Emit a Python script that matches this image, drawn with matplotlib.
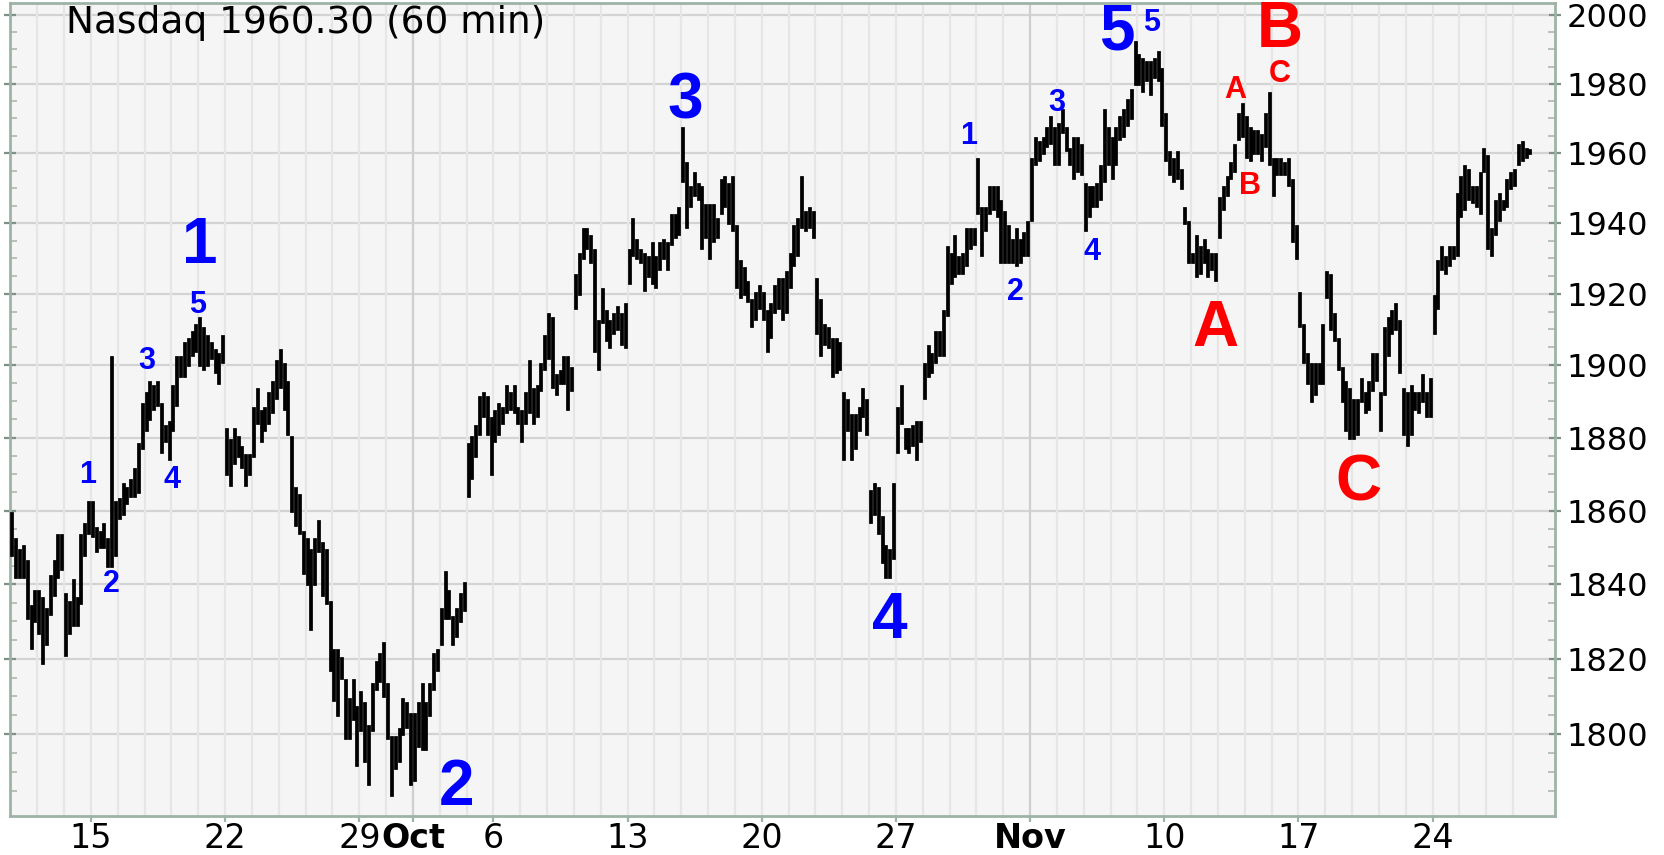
import matplotlib
matplotlib.use('Agg')
import matplotlib.pyplot as plt
from matplotlib.ticker import FixedLocator, FixedFormatter, NullFormatter
import numpy as np
import pandas as pd

# Trading days shown on the chart (Thanksgiving closed)
days = [d for d in pd.bdate_range('2003-09-10', '2003-11-28')
        if d != pd.Timestamp('2003-11-27')]

# 60-minute bars, 7 per day: highs and lows
highs = [
    [1859, 1852, 1849, 1850, 1846, 1834, 1838],
    [1838, 1836, 1833, 1842, 1846, 1853, 1853],
    [1837, 1835, 1841, 1836, 1853, 1856, 1862],
    [1862, 1855, 1854, 1856, 1852, 1902, 1862],
    [1863, 1867, 1866, 1868, 1871, 1878, 1889],
    [1892, 1895, 1894, 1895, 1889, 1883, 1884],
    [1894, 1902, 1902, 1906, 1907, 1909, 1911],
    [1913, 1910, 1908, 1906, 1904, 1903, 1908],
    [1882, 1879, 1882, 1880, 1877, 1875, 1875],
    [1888, 1893, 1887, 1888, 1892, 1895, 1901],
    [1904, 1900, 1895, 1880, 1866, 1864, 1854],
    [1852, 1849, 1852, 1857, 1851, 1849, 1835],
    [1822, 1822, 1820, 1814, 1809, 1814, 1807],
    [1811, 1808, 1802, 1813, 1819, 1821, 1824],
    [1813, 1799, 1799, 1801, 1809, 1808, 1805],
    [1805, 1808, 1813, 1808, 1813, 1821, 1822],
    [1833, 1843, 1838, 1831, 1833, 1837, 1840],
    [1878, 1880, 1883, 1891, 1892, 1891, 1885],
    [1887, 1889, 1888, 1894, 1892, 1894, 1888],
    [1887, 1892, 1901, 1893, 1894, 1900, 1908],
    [1914, 1913, 1897, 1898, 1902, 1902, 1899],
    [1925, 1931, 1938, 1938, 1936, 1932, 1912],
    [1921, 1915, 1912, 1914, 1916, 1914, 1917],
    [1932, 1941, 1935, 1932, 1931, 1930, 1934],
    [1930, 1934, 1935, 1934, 1942, 1942, 1944],
    [1967, 1957, 1950, 1954, 1951, 1950, 1945],
    [1945, 1945, 1941, 1952, 1953, 1951, 1953],
    [1939, 1929, 1927, 1923, 1918, 1920, 1922],
    [1920, 1915, 1917, 1922, 1924, 1924, 1926],
    [1931, 1939, 1941, 1953, 1943, 1944, 1943],
    [1924, 1918, 1911, 1910, 1907, 1907, 1906],
    [1892, 1890, 1886, 1886, 1888, 1893, 1890],
    [1865, 1867, 1866, 1858, 1850, 1849, 1867],
    [1888, 1894, 1882, 1882, 1883, 1884, 1884],
    [1900, 1905, 1903, 1909, 1909, 1915, 1933],
    [1931, 1936, 1930, 1931, 1938, 1938, 1938],
    [1958, 1944, 1944, 1950, 1950, 1950, 1946],
    [1943, 1939, 1935, 1938, 1935, 1937, 1940],
    [1958, 1964, 1963, 1964, 1967, 1970, 1967],
    [1968, 1972, 1967, 1961, 1964, 1964, 1962],
    [1951, 1950, 1950, 1951, 1956, 1972, 1967],
    [1964, 1967, 1970, 1972, 1975, 1978, 1992],
    [1988, 1987, 1986, 1986, 1987, 1989, 1984],
    [1971, 1960, 1958, 1960, 1955, 1944, 1940],
    [1931, 1936, 1933, 1935, 1932, 1931, 1931],
    [1947, 1950, 1953, 1957, 1962, 1971, 1974],
    [1970, 1967, 1966, 1966, 1965, 1971, 1977],
    [1958, 1958, 1958, 1957, 1958, 1952, 1939],
    [1920, 1911, 1903, 1900, 1900, 1900, 1911],
    [1926, 1925, 1914, 1907, 1899, 1895, 1893],
    [1890, 1890, 1896, 1892, 1895, 1903, 1903],
    [1892, 1910, 1913, 1915, 1917, 1912, 1893],
    [1892, 1894, 1892, 1892, 1897, 1892, 1896],
    [1919, 1929, 1933, 1930, 1933, 1933, 1948],
    [1953, 1956, 1955, 1950, 1950, 1954, 1961],
    [1959, 1938, 1946, 1948, 1946, 1952, 1954],
    [1955, 1962, 1963, 1961, 1960.5, 1960.3, 1960.3],
]
lows = [
    [1848, 1842, 1842, 1842, 1831, 1823, 1830],
    [1827, 1819, 1824, 1832, 1837, 1842, 1844],
    [1821, 1827, 1829, 1829, 1835, 1848, 1854],
    [1853, 1849, 1850, 1850, 1845, 1845, 1848],
    [1858, 1859, 1862, 1864, 1864, 1865, 1877],
    [1882, 1885, 1888, 1889, 1876, 1879, 1874],
    [1882, 1889, 1897, 1897, 1900, 1903, 1904],
    [1900, 1899, 1900, 1902, 1898, 1895, 1901],
    [1870, 1867, 1873, 1875, 1872, 1867, 1870],
    [1875, 1884, 1879, 1882, 1884, 1887, 1891],
    [1894, 1888, 1881, 1860, 1856, 1854, 1843],
    [1840, 1828, 1840, 1849, 1837, 1835, 1817],
    [1809, 1805, 1815, 1799, 1799, 1804, 1792],
    [1801, 1793, 1787, 1801, 1812, 1814, 1810],
    [1799, 1784, 1791, 1793, 1800, 1802, 1787],
    [1788, 1797, 1796, 1796, 1805, 1812, 1817],
    [1824, 1831, 1831, 1824, 1826, 1830, 1833],
    [1864, 1869, 1875, 1881, 1886, 1881, 1870],
    [1879, 1881, 1884, 1887, 1888, 1887, 1884],
    [1879, 1884, 1887, 1884, 1886, 1893, 1899],
    [1902, 1894, 1892, 1895, 1895, 1888, 1893],
    [1916, 1920, 1930, 1933, 1929, 1904, 1899],
    [1912, 1907, 1905, 1909, 1910, 1906, 1905],
    [1923, 1931, 1930, 1929, 1921, 1925, 1923],
    [1922, 1927, 1930, 1927, 1934, 1936, 1937],
    [1952, 1939, 1945, 1948, 1947, 1933, 1936],
    [1930, 1935, 1936, 1943, 1945, 1940, 1938],
    [1922, 1919, 1920, 1918, 1911, 1913, 1916],
    [1913, 1904, 1908, 1915, 1916, 1913, 1915],
    [1922, 1928, 1931, 1939, 1938, 1939, 1936],
    [1909, 1903, 1906, 1905, 1897, 1898, 1899],
    [1874, 1882, 1874, 1877, 1882, 1886, 1881],
    [1857, 1859, 1854, 1846, 1842, 1842, 1847],
    [1876, 1884, 1877, 1876, 1878, 1874, 1879],
    [1891, 1897, 1898, 1901, 1903, 1903, 1914],
    [1923, 1925, 1926, 1926, 1928, 1933, 1934],
    [1943, 1931, 1938, 1943, 1944, 1942, 1929],
    [1929, 1929, 1929, 1928, 1929, 1931, 1931],
    [1941, 1957, 1958, 1960, 1962, 1963, 1957],
    [1957, 1966, 1961, 1957, 1953, 1955, 1954],
    [1938, 1942, 1945, 1945, 1947, 1952, 1957],
    [1953, 1957, 1964, 1965, 1968, 1970, 1980],
    [1980, 1978, 1981, 1977, 1982, 1981, 1968],
    [1958, 1954, 1952, 1953, 1950, 1940, 1929],
    [1929, 1925, 1926, 1929, 1925, 1927, 1924],
    [1936, 1944, 1948, 1953, 1955, 1964, 1965],
    [1959, 1958, 1960, 1960, 1958, 1962, 1957],
    [1948, 1954, 1954, 1954, 1951, 1935, 1930],
    [1911, 1901, 1895, 1890, 1892, 1895, 1895],
    [1919, 1910, 1907, 1899, 1890, 1882, 1880],
    [1880, 1881, 1890, 1887, 1888, 1893, 1896],
    [1882, 1892, 1903, 1909, 1910, 1898, 1881],
    [1878, 1881, 1888, 1887, 1890, 1886, 1886],
    [1909, 1916, 1927, 1926, 1928, 1930, 1931],
    [1942, 1944, 1947, 1946, 1945, 1943, 1955],
    [1933, 1931, 1937, 1941, 1944, 1945, 1950],
    [1951, 1957, 1958, 1959, 1960, 1960.3, 1960.3],
]

price_ticks = [1800, 1820, 1840, 1860, 1880, 1900, 1920, 1940, 1960, 1980, 2000]

# Elliott wave labels: (text, day position, price, size, colour)
BLUE = '#0000ff'
RED = '#ff0000'
wave_labels = [
    ('1', 7.05, 1933.4, 'big', BLUE),
    ('2', 16.63, 1785.9, 'big', BLUE),
    ('3', 25.14, 1975.0, 'big', BLUE),
    ('4', 32.78, 1830.1, 'big', BLUE),
    ('5', 41.23, 1995.1, 'big', BLUE),
    ('A', 44.92, 1910.2, 'big', RED),
    ('B', 47.31, 1995.7, 'big', RED),
    ('C', 50.25, 1867.5, 'big', RED),
    ('1', 2.86, 1869.7, 'small', BLUE),
    ('2', 3.77, 1840.1, 'small', BLUE),
    ('3', 5.07, 1901.2, 'small', BLUE),
    ('4', 6.02, 1868.4, 'small', BLUE),
    ('5', 6.97, 1916.9, 'small', BLUE),
    ('1', 35.70, 1964.9, 'small', BLUE),
    ('2', 37.47, 1920.5, 'small', BLUE),
    ('3', 38.98, 1974.5, 'small', BLUE),
    ('4', 40.29, 1931.9, 'small', BLUE),
    ('5', 42.54, 1997.6, 'small', BLUE),
    ('A', 45.63, 1978.2, 'small', RED),
    ('B', 46.19, 1950.7, 'small', RED),
    ('C', 47.31, 1982.9, 'small', RED),
]

FRAME = '#9db3a5'

fig = plt.figure(figsize=(16.65, 8.55), dpi=100)
fig.patch.set_facecolor('white')
ax = fig.add_axes([10.5 / 1665, 1 - 815.5 / 855, 1544.5 / 1665, 812.5 / 855])
ax.set_facecolor('#f5f5f5')

# bars
xs, his, los = [], [], []
for i, (hs, ls) in enumerate(zip(highs, lows)):
    n = len(hs)
    for k in range(n):
        xs.append(i + (k + 0.5) / n)
        his.append(hs[k])
        los.append(ls[k])
ax.vlines(xs, los, his, color='black', lw=2.7, capstyle='projecting', zorder=3)

ax.set_yscale('log')
ax.set_xlim(0, len(days) + 0.56)
ax.set_ylim(1778.7, 2003.6)

# day grid, darker at month starts
month_starts = [i for i in range(1, len(days)) if days[i].month != days[i - 1].month]
for i in range(1, len(days)):
    col = '#cfcfcf' if i in month_starts else '#e6e6e6'
    ax.axvline(i, color=col, lw=1.6, zorder=1)

# y axis
ax.yaxis.set_major_locator(FixedLocator(price_ticks))
ax.yaxis.set_major_formatter(FixedFormatter([str(p) for p in price_ticks]))
ax.yaxis.set_minor_locator(FixedLocator([p for p in range(1780, 2005, 5) if p % 20]))
ax.yaxis.set_minor_formatter(NullFormatter())
ax.grid(True, axis='y', which='major', color='#d3d3d3', lw=1.6, zorder=1)
ax.set_axisbelow(True)
ax.tick_params(axis='y', which='major', left=True, right=True, labelleft=False,
               labelright=True, direction='inout', length=9, width=1.6,
               color='#7f9186', pad=4, labelsize=23)
ax.tick_params(axis='y', which='minor', left=True, right=True,
               direction='in', length=5, width=1.2, color='#a9b9ae')

# x axis: Mondays and first day of each month
tick_pos, tick_lbl = [], []
for i, d in enumerate(days):
    if i in month_starts:
        tick_pos.append(i)
        tick_lbl.append(d.strftime('%b'))
    elif d.weekday() == 0:
        tick_pos.append(i)
        tick_lbl.append(str(d.day))
ax.set_xticks(tick_pos)
ax.set_xticklabels(tick_lbl)
ax.tick_params(axis='x', which='major', direction='out', length=4, width=1.6,
               color=FRAME, pad=1)
for lbl in ax.get_xticklabels():
    lbl.set_fontfamily(['Liberation Sans Narrow', 'DejaVu Sans'])
    lbl.set_fontsize(24)
    if lbl.get_text().isalpha():
        lbl.set_fontweight('bold')

for s in ax.spines.values():
    s.set_color(FRAME)
    s.set_linewidth(2.0)

# wave labels
for txt, dx, py, size, col in wave_labels:
    fs = 46 if size == 'big' else 22
    ax.text(dx, py, txt, color=col, fontsize=fs, fontweight='bold',
            family=['Liberation Sans', 'DejaVu Sans'],
            ha='center', va='center', zorder=4)

ax.text(56 / 1544.5, 1 - 20 / 812.5, 'Nasdaq 1960.30 (60 min)', transform=ax.transAxes,
        fontsize=27, family='DejaVu Sans', ha='left', va='center', zorder=5)

fig.savefig('out.png', dpi=100)
